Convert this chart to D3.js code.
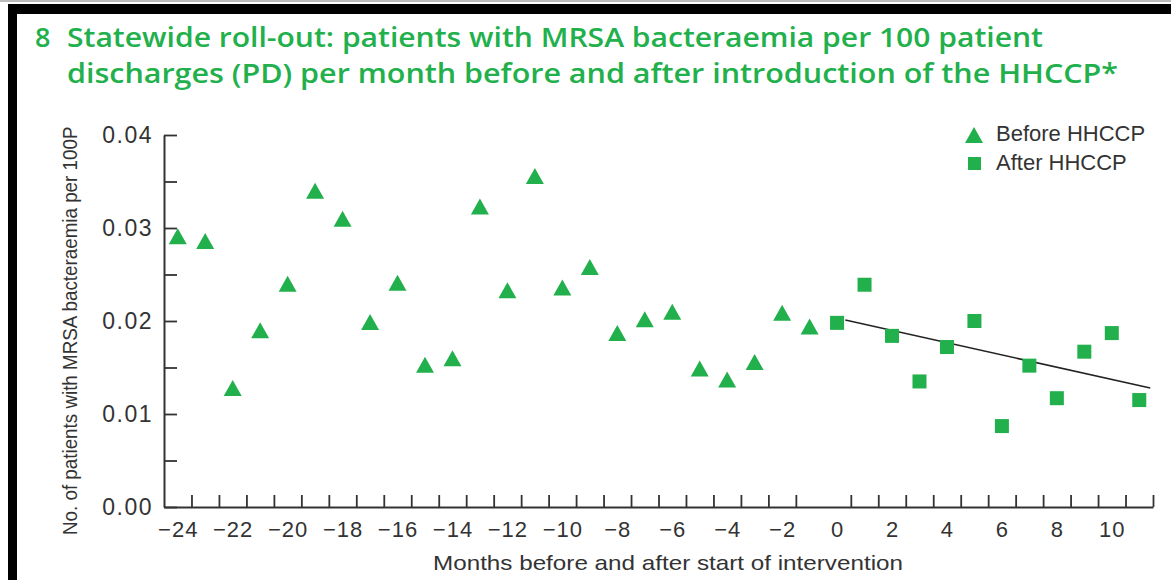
<!DOCTYPE html>
<html>
<head>
<meta charset="utf-8">
<script src="https://cdn.jsdelivr.net/npm/d3@7/dist/d3.min.js"></script>
<style>
  body { margin: 0; background: #fff; }
  svg { display: block; }
</style>
</head>
<body>
<script>
// Data
var beforeMonths = [-24, -23, -22, -21, -20, -19, -18, -17, -16, -15, -14, -13,
                    -12, -11, -10, -9, -8, -7, -6, -5, -4, -3, -2, -1];
var beforeValues = [0.0291, 0.0286, 0.0128, 0.0190, 0.0240, 0.0340, 0.0310, 0.0199,
                    0.0241, 0.0153, 0.0160, 0.0323, 0.0233, 0.0356, 0.0236, 0.0258,
                    0.0187, 0.0202, 0.0210, 0.0149, 0.0137, 0.0156, 0.0209, 0.0194];
var afterMonths = [0, 1, 2, 3, 4, 5, 6, 7, 8, 9, 10, 11];
var afterValues = [0.0198, 0.0239, 0.0184, 0.0135, 0.0172, 0.0200,
                   0.0087, 0.0152, 0.0117, 0.0167, 0.0187, 0.0115];
var trendMonths = [0.3, 11.4];
var trendValues = [0.0201, 0.0128];

var yTicks = [0, 0.005, 0.01, 0.015, 0.02, 0.025, 0.03, 0.035, 0.04];
var yLabels = [0, 0.01, 0.02, 0.03, 0.04];
var xTicks = [-23.5, -22.5, -21.5, -20.5, -19.5, -18.5, -17.5, -16.5, -15.5, -14.5,
              -13.5, -12.5, -11.5, -10.5, -9.5, -8.5, -7.5, -6.5, -5.5, -4.5, -3.5,
              -2.5, -1.5, 0.5, 1.5, 2.5, 3.5, 4.5, 5.5, 6.5, 7.5, 8.5, 9.5, 10.5, 11.5];
var xLabels = [-24, -22, -20, -18, -16, -14, -12, -10, -8, -6, -4, -2, 0, 2, 4, 6, 8, 10];
var legendNames = ["Before HHCCP", "After HHCCP"];

var titleLines = ["Statewide roll-out: patients with MRSA bacteraemia per 100 patient",
                  "discharges (PD) per month before and after introduction of the HHCCP*"];

var svgWidth = 1171;
var svgHeight = 580;
var green = "#21b04b";
var font = "'Liberation Sans', Arial, sans-serif";

var svg = d3.select("body")
  .append("svg")
  .attr("width", svgWidth)
  .attr("height", svgHeight);

// frame: thin grey line, black top band and left bar
svg.append("rect").attr("x", 0).attr("y", 0).attr("width", svgWidth).attr("height", 2).attr("fill", "#bbb");
svg.append("rect").attr("x", 8).attr("y", 4).attr("width", svgWidth - 8).attr("height", 10).attr("fill", "#000");
svg.append("rect").attr("x", 8).attr("y", 4).attr("width", 9).attr("height", svgHeight).attr("fill", "#000");

// title
var title = svg.append("g")
  .attr("fill", green)
  .style("font-family", "'Open Sans', 'Noto Sans', sans-serif")
  .style("font-weight", 600)
  .style("font-size", "27px");
title.append("text").attr("x", 35).attr("y", 47).text("8");
title.append("text").attr("x", 67).attr("y", 47)
  .attr("textLength", 976).attr("lengthAdjust", "spacingAndGlyphs")
  .text(titleLines[0]);
title.append("text").attr("x", 67).attr("y", 83)
  .attr("textLength", 1051).attr("lengthAdjust", "spacingAndGlyphs")
  .text(titleLines[1]);

// scales
var x = d3.scaleLinear().domain([-24.5, 11.5]).range([164, 1153]);
var y = d3.scaleLinear().domain([0, 0.04]).range([507, 135]);

// y axis
var yAxis = d3.axisLeft(y)
  .tickValues(yTicks)
  .tickSize(-13)
  .tickSizeOuter(0)
  .tickPadding(11)
  .tickFormat(function(d) {
    return yLabels.some(function(v) { return Math.abs(v - d) < 1e-9; }) ? d3.format(".2f")(d) : "";
  });

var yG = svg.append("g")
  .attr("transform", "translate(" + x(-24.5) + ",0)")
  .call(yAxis);
yG.selectAll("line").attr("stroke", "#333").attr("stroke-width", 1.8);
yG.select(".domain").attr("stroke", "#333").attr("stroke-width", 2);
yG.selectAll("text")
  .style("font-family", font)
  .style("font-size", "23px")
  .style("letter-spacing", "1.5px")
  .attr("fill", "#333");

// x axis ticks
var xAxis = d3.axisBottom(x)
  .tickValues(xTicks)
  .tickSize(-12)
  .tickSizeOuter(0)
  .tickFormat("");

var xG = svg.append("g")
  .attr("transform", "translate(0," + y(0) + ")")
  .call(xAxis);
xG.selectAll("line").attr("stroke", "#333").attr("stroke-width", 1.8);
xG.select(".domain").attr("stroke", "#333").attr("stroke-width", 2);

// x axis labels
var xLabelAxis = d3.axisBottom(x)
  .tickValues(xLabels)
  .tickSize(0)
  .tickPadding(14)
  .tickFormat(function(d) { return d < 0 ? "\u2212" + Math.abs(d) : String(d); });

var xl = svg.append("g")
  .attr("transform", "translate(0," + y(0) + ")")
  .call(xLabelAxis);
xl.select(".domain").remove();
xl.selectAll("text")
  .style("font-family", font)
  .style("font-size", "22px")
  .style("letter-spacing", "1px")
  .attr("fill", "#333");

// axis titles
svg.append("text")
  .attr("x", 668)
  .attr("y", 570)
  .attr("text-anchor", "middle")
  .attr("textLength", 470)
  .attr("lengthAdjust", "spacingAndGlyphs")
  .style("font-family", font)
  .style("font-size", "21px")
  .attr("fill", "#333")
  .text("Months before and after start of intervention");

svg.append("clipPath").attr("id", "yclip")
  .append("rect").attr("x", 40).attr("y", 126).attr("width", 60).attr("height", 420);

svg.append("g")
  .attr("clip-path", "url(#yclip)")
  .append("text")
  .attr("transform", "translate(77,535) rotate(-90)")
  .attr("textLength", 422)
  .attr("lengthAdjust", "spacingAndGlyphs")
  .style("font-family", font)
  .style("font-size", "20px")
  .attr("fill", "#333")
  .text("No. of patients with MRSA bacteraemia per 100PD");

// markers
var triPath = "M0,-8L9,8L-9,8Z";

var before = beforeMonths.map(function(m, i) { return { month: m, value: beforeValues[i] }; });
var after = afterMonths.map(function(m, i) { return { month: m, value: afterValues[i] }; });

svg.append("g").selectAll("path")
  .data(before)
  .enter()
  .append("path")
  .attr("d", triPath)
  .attr("transform", function(d) { return "translate(" + x(d.month) + "," + y(d.value) + ")"; })
  .attr("fill", green);

// trend line for the after period
var trend = trendMonths.map(function(m, i) { return { month: m, value: trendValues[i] }; });
svg.append("path")
  .datum(trend)
  .attr("d", d3.line().x(function(d) { return x(d.month); }).y(function(d) { return y(d.value); }))
  .attr("fill", "none")
  .attr("stroke", "#222")
  .attr("stroke-width", 1.6);

svg.append("g").selectAll("rect")
  .data(after)
  .enter()
  .append("rect")
  .attr("x", function(d) { return x(d.month) - 7; })
  .attr("y", function(d) { return y(d.value) - 7; })
  .attr("width", 14)
  .attr("height", 14)
  .attr("fill", green);

// legend
var legend = svg.append("g");
legend.append("path").attr("d", triPath).attr("transform", "translate(974,135)").attr("fill", green);
legend.append("rect").attr("x", 968).attr("y", 157).attr("width", 13).attr("height", 13).attr("fill", green);
legend.selectAll("text")
  .data(legendNames)
  .enter()
  .append("text")
  .attr("x", 996)
  .attr("y", function(d, i) { return 141 + i * 29; })
  .style("font-family", font)
  .style("font-size", "22px")
  .attr("fill", "#333")
  .text(function(d) { return d; });
</script>
</body>
</html>
